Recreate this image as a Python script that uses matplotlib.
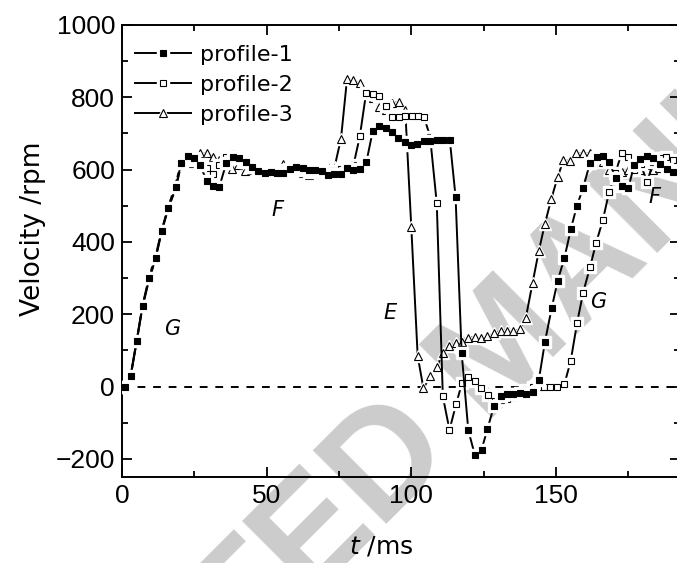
import matplotlib
matplotlib.use("Agg")
import matplotlib.pyplot as plt
from matplotlib.lines import Line2D
from matplotlib.ticker import MultipleLocator

# ---- data (t in ms, velocity in rpm) ----
t1 = [1.1, 3.0, 5.1, 7.1, 9.4, 11.6, 13.7, 16.0, 18.6, 20.4, 22.7, 25.0, 27.0, 29.3, 31.5, 33.6,
      36.0, 38.3, 40.5, 42.9, 45.0, 47.1, 49.3, 51.5, 53.6, 55.8, 58.0, 60.2, 62.5, 64.6, 66.8,
      69.0, 71.1, 73.4, 75.6, 77.8, 80.0, 82.2, 84.5, 86.7, 88.9, 91.1, 93.3, 95.5, 97.7, 99.8,
      102.0, 104.3, 106.6, 108.8, 111.0, 113.3, 115.3, 117.4, 119.7, 122.0, 124.3, 126.3, 128.6,
      130.9, 133.0, 135.2, 137.6, 139.6, 141.9, 144.1, 146.2, 148.5, 150.6, 152.9, 155.2, 157.2,
      159.4, 161.8, 164.1, 166.4, 168.4, 170.7, 173.0, 175.0, 177.0, 179.0, 181.4, 183.6, 185.8,
      188.3, 190.6]
v1 = [0, 30, 127, 223, 299, 355, 431, 495, 551, 617, 637, 631, 612, 569, 554, 551,
      617, 636, 632, 620, 606, 596, 590, 594, 590, 592, 603, 606, 605, 600, 600,
      596, 585, 589, 587, 604, 600, 603, 622, 708, 720, 716, 704, 687, 677, 668,
      670, 680, 679, 683, 681, 683, 525, 94, -121, -190, -174, -118, -53,
      -25, -20, -20, -18, -20, -14, 19, 124, 216, 293, 355, 437, 499,
      550, 619, 636, 637, 621, 576, 554, 548, 612, 630, 637, 631, 615,
      603, 593]

t2 = [1.1, 3.0, 5.1, 7.1, 9.4, 11.6, 13.7, 16.0, 18.6, 20.4, 22.7, 25.0, 27.2, 29.4, 31.6, 33.7,
      36.0, 38.2, 40.4, 42.6, 44.8, 47.0, 49.2, 51.4, 53.6, 55.8, 58.0, 60.2, 62.4, 64.6, 66.8,
      69.0, 71.1, 73.3, 75.6, 77.8, 80.0, 82.2, 84.4, 86.7, 88.9, 91.2, 93.5, 95.7, 97.9, 100.1,
      102.3, 104.4, 106.5, 108.8, 110.9, 113.2, 115.5, 117.5, 119.7, 122.0, 124.1, 126.4, 128.8,
      131.0, 133.0, 135.3, 137.6, 139.8, 141.9, 144.1, 146.0, 148.1, 150.5, 152.9, 155.1, 157.3,
      159.4, 161.8, 163.9, 166.2, 168.4, 170.5, 172.7, 175.0, 177.1, 179.3, 181.5, 183.7, 185.9,
      188.2, 190.5]
v2 = [0, 28, 125, 220, 297, 352, 428, 493, 548, 612, 630, 627, 615, 605, 588, 614,
      635, 642, 633, 622, 608, 598, 592, 600, 596, 600, 598, 605, 598, 594, 600,
      602, 597, 595, 603, 606, 612, 692, 813, 810, 803, 775, 746, 746, 748, 748,
      748, 746, 691, 507, -27, -120, -48, 9, 27, 16, -4, -24, -39,
      -37, -34, -28, -21, -10, -2, 0, 0, -2, -2, 6, 71, 176,
      260, 331, 398, 460, 539, 590, 645, 636, 598, 615, 566, 622, 632,
      634, 626]

t3 = [1.1, 3.0, 5.1, 7.1, 9.4, 11.6, 13.7, 16.0, 18.6, 20.4, 22.7, 24.7, 27.0, 29.3, 31.6, 33.7,
      35.9, 37.9, 40.2, 42.4, 44.6, 46.8, 49.0, 51.2, 53.4, 55.7, 57.9, 60.1, 62.5, 64.7, 66.9,
      69.0, 71.1, 73.5, 75.7, 77.8, 80.0, 82.2, 84.5, 86.6, 88.9, 91.1, 93.5, 95.7, 97.9, 100.0,
      102.2, 104.2, 106.5, 108.8, 110.8, 113.0, 115.4, 117.6, 119.7, 121.9, 124.1, 126.3, 128.6,
      130.9, 133.0, 135.2, 137.6, 139.6, 141.9, 144.1, 146.2, 148.4, 150.6, 152.6, 154.9, 157.1,
      159.3, 161.6, 163.8, 166.1, 168.2, 170.4, 172.7, 174.8, 177.0, 179.2, 181.4, 183.5, 185.7,
      188.0, 190.3]
v3 = [0, 32, 130, 225, 305, 361, 432, 497, 562, 620, 625, 617, 645, 645, 636, 628,
      615, 603, 612, 597, 600, 605, 602, 598, 604, 615, 600, 598, 592, 586, 592,
      600, 607, 608, 686, 852, 847, 840, 815, 797, 773, 764, 784, 787, 765, 441,
      85, -5, 28, 54, 92, 111, 120, 124, 135, 137, 134, 139, 147,
      154, 155, 153, 159, 191, 286, 376, 451, 519, 580, 626, 624, 646,
      646, 645, 640, 621, 600, 600, 594, 600, 608, 600, 613, 600, 605,
      600, 598]

labels = ["profile-1", "profile-2", "profile-3"]
notes = [("G", 17.3, 160), ("F", 53.6, 488), ("E", 92.6, 204), ("G", 164.5, 234), ("F", 184.0, 524)]

plt.rcParams['font.family'] = ['Liberation Sans', 'DejaVu Sans']
plt.rcParams['mathtext.default'] = 'regular'

W, H = 677, 563
fig = plt.figure(figsize=(W / 100, H / 100), dpi=100)
ax = fig.add_axes([122 / W, 1 - 477 / H, 193 * 2.893 / W, (477 - 25) / H])
ax.set_facecolor('none')

# watermark behind everything
fig.text(505 / W, 1 - 350 / H, "ACCEPTED MANUSCRIPT", rotation=45, rotation_mode='anchor',
         ha='center', va='center', fontsize=108, fontweight='bold', color='#cccccc',
         family='Liberation Sans', zorder=-1)

ax.axhline(0, color='k', lw=1.4, ls=(0, (4, 4)), zorder=1)


def draw(t, v, marker, face, ms, z):
    ax.plot(t, v, '-', color='k', lw=1.4, zorder=z)
    ax.plot(t, v, ls='none', marker=marker, ms=ms + 3, mfc='white', mec='white', zorder=z + 0.1)
    ax.plot(t, v, ls='none', marker=marker, ms=ms, mfc=face, mec='k', mew=0.8, zorder=z + 0.2)
    line = Line2D([], [], color='k', lw=1.4)
    halo = Line2D([], [], ls='none', marker=marker, ms=ms + 3, mfc='white', mec='white')
    mk = Line2D([], [], ls='none', marker=marker, ms=ms, mfc=face, mec='k', mew=0.8)
    return (line, halo, mk)


h3 = draw(t3, v3, '^', 'white', 6, 2)
h2 = draw(t2, v2, 's', 'white', 5, 3)
h1 = draw(t1, v1, 's', 'black', 5, 4)

leg = ax.legend([h1, h2, h3], labels, loc='upper left', bbox_to_anchor=(0.0, 0.985),
                frameon=False, handlelength=2.5, handletextpad=0.4, labelspacing=0.45,
                borderpad=0.4, borderaxespad=0.2, prop={'family': 'DejaVu Sans', 'size': 16})

for s, x, y in notes:
    ax.text(x, y, s, style='italic', fontsize=15, ha='center', va='center',
            family='DejaVu Sans', zorder=6)

ax.set_xlim(0, 193)
ax.set_ylim(-250, 1000)
ax.xaxis.set_major_locator(MultipleLocator(50))
ax.xaxis.set_minor_locator(MultipleLocator(25))
ax.yaxis.set_major_locator(MultipleLocator(200))
ax.yaxis.set_minor_locator(MultipleLocator(100))
ax.tick_params(which='both', direction='in', top=True, right=True, width=1.3)
ax.tick_params(which='major', length=7, labelsize=19, pad=5)
ax.tick_params(which='minor', length=4)
for sp in ax.spines.values():
    sp.set_linewidth(1.4)

ax.set_xlabel(r"$\mathit{t}$ /ms", fontsize=18, family='DejaVu Sans')
ax.set_ylabel("Velocity /rpm", fontsize=19, family='DejaVu Sans')
ax.xaxis.set_label_coords((381 - 122) / 558.4, -(553 - 477) / 452, transform=ax.transAxes)
ax.xaxis.label.set_va('baseline')
ax.yaxis.set_label_coords(-(122 - 46) / 558.4, 0.55)

fig.savefig("out.png", dpi=100)
